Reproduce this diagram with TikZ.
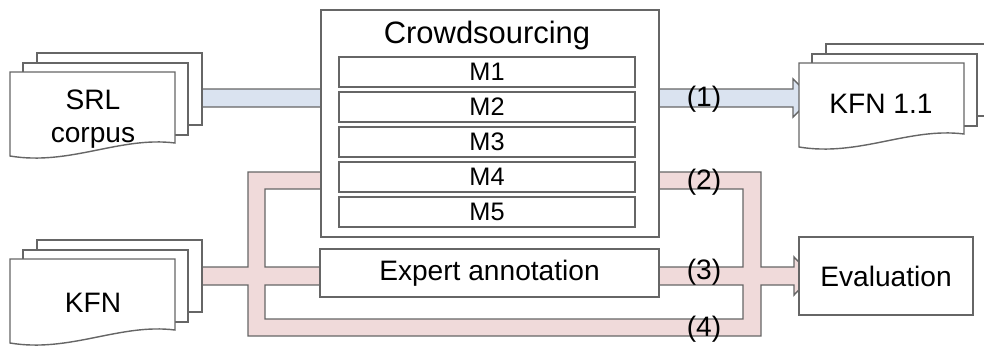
\documentclass[tikz,border=0pt]{standalone}
\usepackage{fontspec}
\setmainfont{Liberation Sans}
\definecolor{linegray}{HTML}{666666}
\definecolor{bandblue}{HTML}{DAE3F0}
\definecolor{bandpink}{HTML}{F0DADA}
\newcommand{\docstack}[2]{%
  \draw[doc] ({#1+27},{#2-19}) rectangle ({#1+192},{#2+53});
  \draw[doc] ({#1+13},{#2-9}) rectangle ({#1+178},{#2+63});
  \draw[doc] (#1,#2) -- ({#1+165},#2) -- ({#1+165},{#2+71})
    .. controls ({#1+110},{#2+64}) and ({#1+60},{#2+94}) .. (#1,{#2+84}) -- cycle;
}

\begin{document}
\begin{tikzpicture}[x=0.025cm,y=-0.025cm,line width=1pt,
  every node/.style={font=\fontsize{20}{23.5}\selectfont},
  doc/.style={draw=linegray,fill=white},
  box/.style={draw=linegray,fill=white,inner sep=0pt},
  mbox/.style={box,minimum width=7.4cm,minimum height=0.75cm,font=\fontsize{18}{20}\selectfont}]
  \useasboundingbox (0,0) rectangle (984,349);
  \draw[linegray,fill=bandblue] (195,89) -- (793,89) -- (793,79) -- (812,98)
    -- (793,117) -- (793,107) -- (195,107) -- cycle;
  \draw[linegray,fill=bandpink,even odd rule] (195,267) -- (248,267) -- (248,172)
    -- (761,172) -- (761,267) -- (794,267) -- (794,257) -- (812,276) -- (794,295)
    -- (794,285) -- (761,285) -- (761,336) -- (248,336) -- (248,285) -- (195,285) -- cycle
    (265,189) rectangle (743,267) (265,285) rectangle (743,319);
  \node[box,minimum width=8.45cm,minimum height=5.675cm] (crowd) at (490,123.5) {};
  \node[font=\fontsize{22}{24}\selectfont] (crowdlbl) at (487,35) {Crowdsourcing};
  \foreach \i in {1,...,5}
    \node[mbox] (m\i) at (487,{37+35*\i}) {M\i};
  \node[box,minimum width=8.475cm,minimum height=1.2cm] (expert) at (489.5,273) {Expert annotation};
  \node[box,minimum width=4.35cm,minimum height=1.95cm] (eval) at (886,276) {Evaluation};
  \docstack{10}{72}
  \docstack{10}{259}
  \docstack{799}{63}
  \node[align=center] (srl) at (93,119) {SRL\\corpus};
  \node (kfn) at (93,303) {KFN};
  \node (kfnnew) at (881,103.5) {KFN 1.1};
  \node (lab1) at (704,99.5) {(1)};
  \node (lab2) at (704,182) {(2)};
  \node (lab3) at (704,272.5) {(3)};
  \node (lab4) at (704,329.5) {(4)};
\end{tikzpicture}
\end{document}
